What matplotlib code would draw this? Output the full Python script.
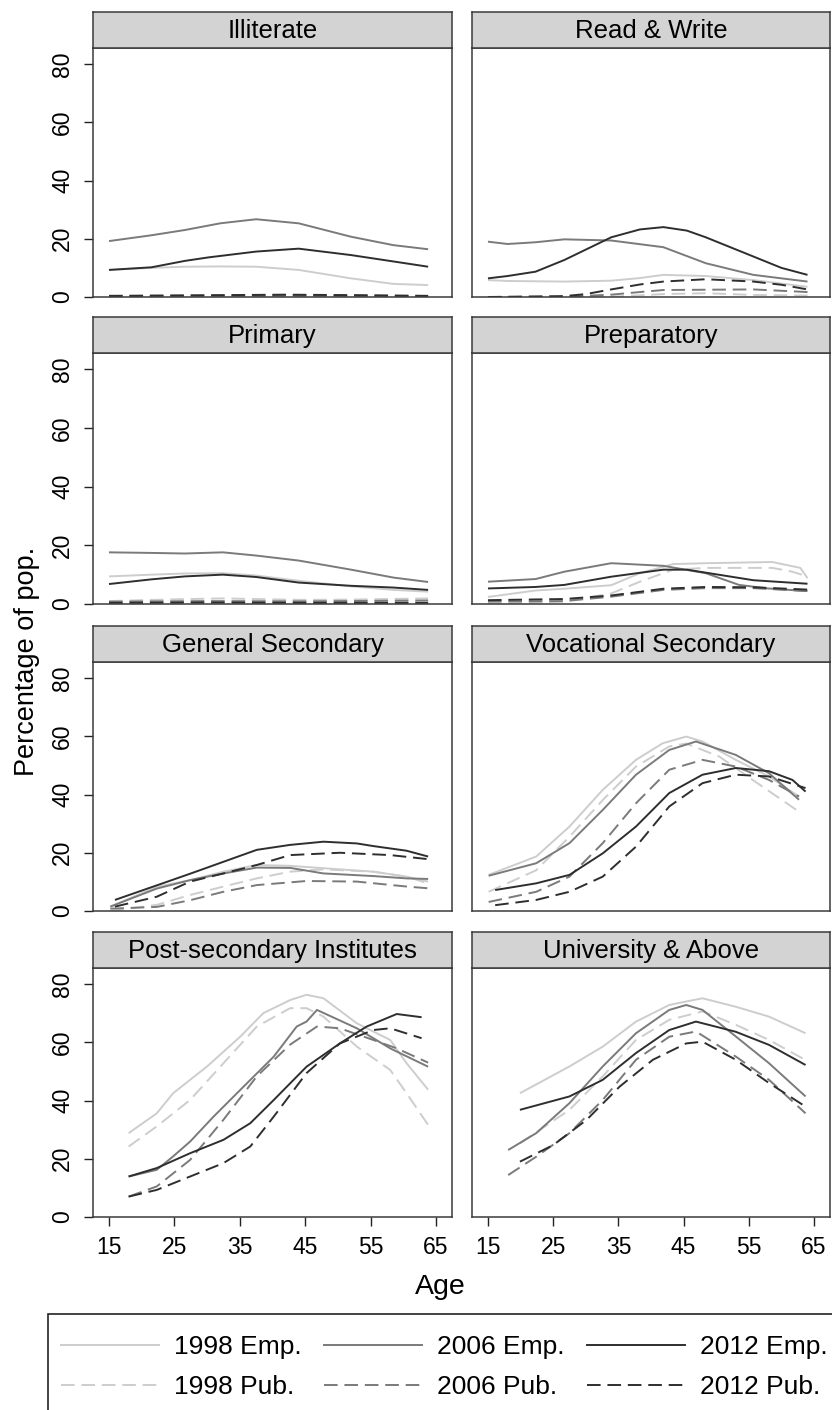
import matplotlib
matplotlib.use("Agg")
import matplotlib.pyplot as plt
from matplotlib.lines import Line2D
from matplotlib.patches import Rectangle

plt.rcParams['font.family'] = ['Liberation Sans', 'DejaVu Sans']

W, H = 832, 1410

# series per panel: label -> (ages, percentage of pop.)
illiterate = {
    '1998 Emp.': ([15, 21.5, 26.6, 32, 37.5, 44, 52, 58.5, 63.8], [9.3, 10.0, 10.4, 10.5, 10.4, 9.3, 6.4, 4.5, 4.1]),
    '1998 Pub.': ([15, 30, 45, 63.8], [0.2, 0.3, 0.3, 0.2]),
    '2006 Emp.': ([15, 21.5, 26.6, 32, 37.5, 44, 52, 58.5, 63.8], [19.2, 21.2, 23.0, 25.3, 26.7, 25.3, 20.7, 17.8, 16.4]),
    '2006 Pub.': ([15, 30, 45, 63.8], [0.3, 0.5, 0.5, 0.3]),
    '2012 Emp.': ([15, 21.5, 26.6, 30.2, 37.5, 44, 52, 58.5, 63.8], [9.3, 10.2, 12.4, 13.6, 15.6, 16.6, 14.4, 12.2, 10.4]),
    '2012 Pub.': ([15, 30, 42, 55, 63.8], [0.4, 0.6, 0.8, 0.6, 0.4]),
}
read_write = {
    '1998 Emp.': ([15, 18, 26.7, 33.9, 38.3, 41.9, 48.4, 55.7, 64], [5.8, 5.5, 5.3, 5.6, 6.5, 7.6, 7.2, 5.8, 3.5]),
    '1998 Pub.': ([15, 33.9, 41.9, 48.4, 55.7, 64], [0.0, 0.1, 1.0, 1.3, 0.7, 0.5]),
    '2006 Emp.': ([15, 18, 22.3, 26.7, 33.9, 41.9, 48.4, 55.7, 64], [19.0, 18.2, 18.8, 19.8, 19.4, 17.1, 11.6, 7.6, 5.3]),
    '2006 Pub.': ([15, 26.7, 33.9, 38.3, 41.9, 48.4, 55.7, 64], [0.0, 0.1, 0.8, 1.7, 2.4, 2.5, 2.6, 1.7]),
    '2012 Emp.': ([15, 18, 22.3, 26.7, 33.9, 38.3, 41.9, 45.5, 48.4, 55.7, 60, 64], [6.4, 7.2, 8.7, 12.7, 20.5, 23.2, 24.0, 22.8, 20.5, 13.9, 10.0, 7.6]),
    '2012 Pub.': ([15, 26.7, 30, 33.9, 38.3, 41.9, 48.4, 55.7, 60, 64], [0.0, 0.3, 1.0, 2.6, 4.3, 5.3, 6.1, 5.3, 4.2, 2.6]),
}
primary = {
    '1998 Emp.': ([15, 21.5, 26.6, 32.4, 37.5, 44, 52, 58.5, 63.8], [9.4, 10.0, 10.4, 10.5, 9.7, 7.9, 6.0, 4.8, 4.2]),
    '1998 Pub.': ([15, 25, 32.4, 44, 52, 63.8], [1.0, 1.6, 1.9, 1.4, 1.5, 1.9]),
    '2006 Emp.': ([15, 21.5, 26.6, 32.4, 37.5, 44, 52, 58.5, 63.8], [17.6, 17.4, 17.2, 17.6, 16.5, 14.8, 11.7, 9.0, 7.5]),
    '2006 Pub.': ([15, 30, 45, 63.8], [0.8, 1.0, 0.9, 1.2]),
    '2012 Emp.': ([15, 21.5, 26.6, 32.4, 37.5, 44, 52, 58.5, 63.8], [6.8, 8.4, 9.4, 10.0, 9.2, 7.3, 6.2, 5.6, 4.8]),
    '2012 Pub.': ([15, 30, 45, 63.8], [0.4, 0.5, 0.4, 0.4]),
}
preparatory = {
    '1998 Emp.': ([15, 22.3, 26.7, 33.9, 38.3, 43.4, 48.4, 58.6, 62.9, 64], [2.4, 4.6, 5.2, 6.4, 10.5, 13.6, 13.9, 14.3, 12.3, 8.8]),
    '1998 Pub.': ([15, 26.7, 33.9, 38.3, 43.4, 48.4, 58.6, 61.5, 64], [0.0, 0.8, 3.6, 7.6, 11.7, 12.3, 12.3, 11.1, 9.4]),
    '2006 Emp.': ([15, 22.3, 26.7, 33.9, 41.9, 48.4, 53.5, 57.9, 64], [7.6, 8.5, 11.0, 13.9, 13.0, 10.5, 6.5, 5.3, 4.4]),
    '2006 Pub.': ([15, 26.7, 33.9, 41.9, 48.4, 55.7, 64], [0.8, 1.0, 2.5, 4.8, 5.4, 5.4, 4.4]),
    '2012 Emp.': ([15, 22.3, 26.7, 33.9, 41.9, 45.5, 55.7, 64], [5.3, 5.8, 6.5, 9.3, 11.7, 11.7, 8.1, 6.9]),
    '2012 Pub.': ([15, 26.7, 33.9, 41.9, 48.4, 55.7, 64], [1.3, 1.7, 2.9, 5.2, 5.8, 5.7, 4.9]),
}
general_secondary = {
    '1998 Emp.': ([15.2, 22.3, 27.4, 32.5, 37.6, 42.7, 47.8, 55.4, 60.5, 63.8], [1.5, 8.3, 10.6, 13.5, 15.8, 15.5, 14.7, 13.5, 11.8, 10.1]),
    '1998 Pub.': ([15.2, 22.3, 27.4, 32.5, 37.6, 42.7, 47.8, 55.4, 60.5, 63.8], [0.0, 2.1, 5.5, 8.4, 11.2, 13.5, 14.3, 13.5, 11.8, 9.5]),
    '2006 Emp.': ([15.2, 22.3, 27.4, 32.5, 37.6, 42.7, 47.8, 55.4, 60.5, 63.8], [1.5, 7.7, 10.6, 12.9, 14.9, 14.8, 12.9, 12.0, 11.2, 11.0]),
    '2006 Pub.': ([15.2, 22.3, 27.4, 32.5, 37.6, 45.2, 52.9, 60.5, 63.8], [0.8, 1.4, 3.7, 6.6, 8.9, 10.3, 10.1, 8.4, 7.8]),
    '2012 Emp.': ([15.9, 22.3, 27.4, 32.5, 37.6, 42.7, 47.8, 52.9, 55.4, 60.5, 63.8], [3.8, 8.8, 12.8, 16.9, 21.0, 22.7, 23.8, 23.2, 22.3, 20.7, 18.7]),
    '2012 Pub.': ([15.9, 22.3, 27.4, 32.5, 37.6, 42.7, 50.3, 58.0, 63.8], [1.5, 4.9, 10.1, 12.9, 15.8, 19.2, 20.0, 19.2, 17.8]),
}
vocational_secondary = {
    '1998 Emp.': ([15.1, 22.4, 27.5, 32.6, 37.7, 41.8, 45.4, 47.9, 53.0, 58.1, 62.7], [12.4, 18.7, 29.0, 41.6, 51.9, 57.6, 59.9, 58.2, 51.9, 46.2, 39.3]),
    '1998 Pub.': ([15.1, 22.4, 27.5, 32.6, 37.7, 42.8, 45.4, 50.5, 55.6, 62.7], [6.6, 14.0, 25.5, 38.1, 49.6, 56.5, 57.5, 53.0, 45.0, 34.1]),
    '2006 Emp.': ([15.1, 22.4, 27.5, 32.6, 37.7, 42.8, 46.9, 53.0, 58.1, 62.7], [12.1, 16.4, 23.3, 34.7, 46.8, 55.3, 58.2, 53.6, 47.3, 38.2]),
    '2006 Pub.': ([15.1, 22.4, 27.5, 32.6, 37.7, 42.8, 47.9, 53.0, 58.1, 62.7], [3.1, 6.6, 11.8, 23.3, 37.0, 48.5, 51.9, 49.6, 45.0, 39.3]),
    '2012 Emp.': ([16.1, 22.4, 27.5, 32.6, 37.7, 42.8, 47.9, 53.0, 58.1, 61.7, 63.7], [7.2, 9.5, 12.4, 19.8, 29.0, 40.5, 46.8, 49.1, 48.0, 45.0, 41.0]),
    '2012 Pub.': ([16.1, 22.4, 27.5, 32.6, 37.7, 42.8, 47.9, 53.0, 58.1, 63.7], [2.0, 3.8, 6.6, 11.8, 22.1, 35.9, 43.9, 46.8, 46.2, 42.2]),
}
post_secondary = {
    '1998 Emp.': ([18, 22.3, 24.8, 30, 35.1, 38.6, 42.7, 45.2, 47.8, 52.9, 58, 60.5, 63.8], [28.8, 35.6, 42.5, 51.7, 62.0, 70.0, 74.5, 76.3, 75.1, 66.5, 60.8, 52.8, 43.7]),
    '1998 Pub.': ([18, 22.3, 27.4, 32.5, 37.6, 42.7, 45.2, 47.8, 52.9, 58, 60.5, 63.8], [24.2, 31.1, 40.2, 52.8, 65.4, 71.7, 71.7, 68.8, 58.5, 50.5, 42.5, 31.6]),
    '2006 Emp.': ([18, 22.3, 24.8, 27.4, 31, 35.1, 40.2, 43.7, 45.2, 46.8, 52.9, 58, 63.8], [13.9, 16.2, 20.8, 25.9, 34.5, 43.7, 55.1, 65.4, 67.1, 71.1, 64.8, 57.9, 51.6]),
    '2006 Pub.': ([18, 22.3, 27.4, 32.5, 37.6, 42.7, 46.8, 50.3, 55.4, 59, 63.8], [7.0, 10.5, 19.6, 33.4, 48.3, 59.2, 65.4, 64.8, 60.8, 57.9, 53.0]),
    '2012 Emp.': ([18, 22.3, 27.4, 32.5, 36.6, 40.2, 45.2, 50.3, 54.4, 59, 62.8], [13.9, 16.8, 21.9, 26.5, 32.2, 40.2, 51.6, 59.6, 65.4, 69.7, 68.6]),
    '2012 Pub.': ([18, 22.3, 27.4, 32.5, 36.6, 40.2, 45.2, 50.3, 55.4, 58, 62.8], [7.0, 9.3, 13.9, 18.5, 24.2, 34.5, 49.4, 59.6, 64.2, 64.8, 61.4]),
}
university = {
    '1998 Emp.': ([19.9, 27.5, 32.6, 37.7, 42.8, 45.4, 47.9, 53.0, 58.1, 63.7], [42.5, 51.7, 58.5, 67.1, 72.8, 74.0, 75.1, 72.2, 68.8, 63.1]),
    '1998 Pub.': ([19.9, 27.5, 32.6, 37.7, 42.8, 47.9, 53.0, 58.1, 63.7], [25.3, 36.8, 48.3, 60.8, 67.7, 70.6, 66.0, 60.8, 53.9]),
    '2006 Emp.': ([18.1, 22.4, 27.5, 32.6, 37.7, 42.8, 45.4, 47.9, 53.0, 58.1, 63.7], [23.0, 28.8, 39.1, 51.7, 63.1, 71.1, 72.8, 71.1, 62.0, 52.8, 41.4]),
    '2006 Pub.': ([18.1, 22.4, 27.5, 32.6, 37.7, 42.8, 46.9, 53.0, 58.1, 63.7], [14.4, 20.7, 28.8, 40.2, 54.0, 61.9, 63.7, 55.1, 47.1, 35.6]),
    '2012 Emp.': ([19.9, 27.5, 32.6, 37.7, 42.8, 46.9, 53.0, 58.1, 63.7], [36.8, 41.4, 47.1, 56.3, 64.2, 67.1, 63.6, 59.1, 52.2]),
    '2012 Pub.': ([19.9, 25.0, 30.1, 35.2, 40.3, 45.4, 47.9, 53.0, 58.1, 63.7], [19.0, 24.7, 33.3, 44.8, 54.0, 59.6, 60.2, 54.0, 46.0, 37.9]),
}

panel_titles = ['Illiterate', 'Read & Write', 'Primary', 'Preparatory',
                'General Secondary', 'Vocational Secondary',
                'Post-secondary Institutes', 'University & Above']
panel_data = [illiterate, read_write, primary, preparatory,
              general_secondary, vocational_secondary, post_secondary, university]

series_order = ['1998 Emp.', '1998 Pub.', '2006 Emp.', '2006 Pub.', '2012 Emp.', '2012 Pub.']
colors = {'1998': '#cdcdcd', '2006': '#7a7a7a', '2012': '#2e2e2e'}
DASH = (0, (7, 3.5))
LW = 1.4

x_ticks = [15, 25, 35, 45, 55, 65]
y_ticks = [0, 20, 40, 60, 80]

col_px = [(93, 452), (472, 830)]
row_px = [(48, 297), (353, 604), (662, 911), (968, 1217)]
STRIP = 36
EDGE = '#3a3a3a'
TICK_FS = 16.5

fig = plt.figure(figsize=(W / 100, H / 100), dpi=100)

for i, (title, data) in enumerate(zip(panel_titles, panel_data)):
    r, c = divmod(i, 2)
    x0, x1 = col_px[c]
    top, bot = row_px[r]
    ax = fig.add_axes([x0 / W, 1 - bot / H, (x1 - x0) / W, (bot - top) / H])
    for name in series_order:
        ages, vals = data[name]
        ls = '-' if 'Emp' in name else DASH
        ax.plot(ages, vals, color=colors[name[:4]], lw=LW, linestyle=ls,
                solid_capstyle='butt', dash_capstyle='butt')
    ax.set_xlim(12.55, 67.45)
    ax.set_ylim(0, 85.5)
    for s in ax.spines.values():
        s.set_color(EDGE)
        s.set_linewidth(1.1)
    ax.tick_params(direction='out', length=6.5, width=1.0, color='#222222', pad=7)
    ax.set_xticks(x_ticks)
    ax.set_yticks(y_ticks)
    if r == 3:
        ax.set_xticklabels([str(t) for t in x_ticks], fontsize=TICK_FS)
    else:
        ax.tick_params(axis='x', length=0, labelbottom=False)
    if c == 0:
        ax.set_yticklabels([str(t) for t in y_ticks], rotation=90, va='center',
                           fontsize=TICK_FS)
    else:
        ax.tick_params(axis='y', length=0, labelleft=False)

    # strip with panel title
    sax = fig.add_axes([x0 / W, 1 - top / H, (x1 - x0) / W, STRIP / H])
    sax.set_facecolor('#d3d3d3')
    sax.set_xticks([])
    sax.set_yticks([])
    for s in sax.spines.values():
        s.set_color(EDGE)
        s.set_linewidth(1.1)
    sax.text(0.5, 0.47, title, ha='center', va='center', fontsize=18.5,
             transform=sax.transAxes)

fig.text(27 / W, 1 - 661 / H, 'Percentage of pop.', rotation=90,
         ha='center', va='center', fontsize=19.5)
fig.text(440 / W, 1 - 1287 / H, 'Age', ha='center', va='center', fontsize=20.5)

# legend box (runs off the right and bottom edges)
fig.patches.append(Rectangle((48 / W, 1 - 1430 / H), (860 - 48) / W, (1430 - 1314) / H,
                             transform=fig.transFigure, fill=False,
                             edgecolor='#222222', linewidth=1.2))
handles = []
for name in series_order:
    ls = '-' if 'Emp' in name else DASH
    handles.append(Line2D([], [], color=colors[name[:4]], lw=LW, linestyle=ls))
fig.legend(handles, series_order, ncol=3, loc='upper left',
           bbox_to_anchor=(61 / W, 1 - 1335 / H), frameon=False, fontsize=19,
           handlelength=3.7, handletextpad=0.57, columnspacing=0.87,
           labelspacing=0.6, borderpad=0, borderaxespad=0)

fig.savefig('out.png', dpi=100)
